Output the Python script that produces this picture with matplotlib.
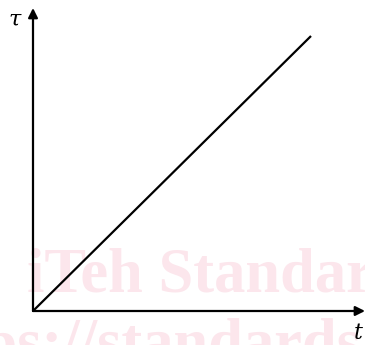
import matplotlib.pyplot as plt

# linear relation tau ~ t, drawn from the origin
t = [0.0, 1.0]
tau = [0.0, 1.0]

W, H = 365, 345
fig = plt.figure(figsize=(W / 100, H / 100), dpi=100)

# faint watermark behind the diagram
wm = dict(color='#fce6ec', fontfamily='Liberation Serif', fontweight='bold',
          fontsize=45, zorder=0)
fig.text(27 / W, (H - 292) / H, 'iTeh Standards', **wm)
fig.text(-94 / W, (H - 362) / H, 'https://standards.iteh.ai', **wm)

# axes box runs from the origin to the arrow tips
x0, y0 = 33, 311
ax = fig.add_axes([x0 / W, (H - y0) / H, (W - x0) / W, (y0 - 8) / H])
ax.set_zorder(2)
ax.patch.set_alpha(0)
ax.set_xlim(0, (W - x0) / (311 - x0))
ax.set_ylim(0, (y0 - 8) / (y0 - 36))
ax.axis('off')

ax.plot(t, tau, color='black', lw=1.6, solid_capstyle='butt')

arrow = dict(arrowstyle='-|>', color='black', lw=1.6, mutation_scale=14,
             shrinkA=0, shrinkB=0)
ax.annotate('', xy=(1, 0), xytext=(0, 0), xycoords='axes fraction',
            arrowprops=arrow, annotation_clip=False)
ax.annotate('', xy=(0, 1), xytext=(0, 0), xycoords='axes fraction',
            arrowprops=arrow, annotation_clip=False)

lab = dict(fontfamily='DejaVu Serif', style='italic', fontsize=16,
           ha='center', va='center', zorder=3)
fig.text(15 / W, (H - 20) / H, 'τ', **lab)
fig.text(358 / W, (H - 333) / H, 't', **lab)

fig.savefig('out.png', dpi=100)
